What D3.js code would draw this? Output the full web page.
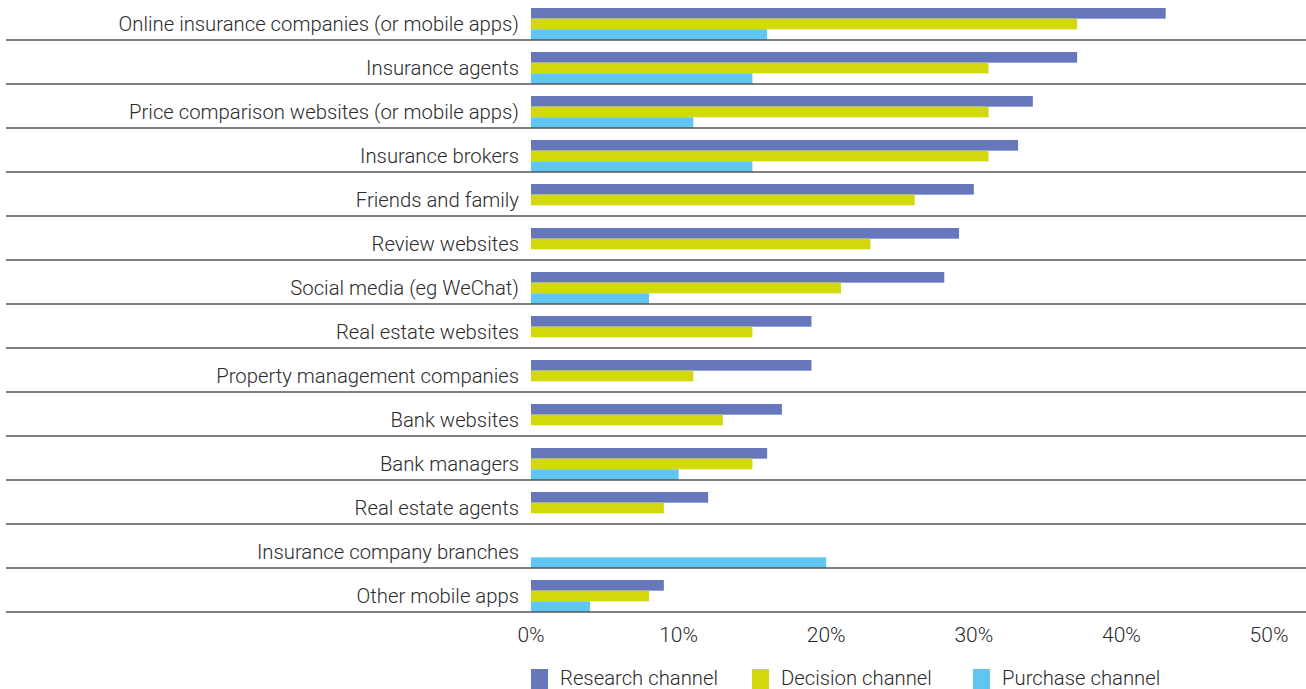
<!DOCTYPE html>
<html lang="en">
<head>
    <meta charset="UTF-8">
    <title>Research, decision and purchase channels</title>
    <script src="https://d3js.org/d3.v7.min.js"></script>
    <style>
        body {
            margin: 0;
            padding: 0;
            background: #fff;
            font-family: Roboto, "Open Sans", sans-serif;
        }
        svg text {
            fill: #2b2b2b;
            font-weight: 300;
        }
    </style>
</head>
<body>
    <svg id="chart" width="1306" height="689"></svg>

    <script>
        // channel categories, top to bottom
        const categories = [
            'Online insurance companies (or mobile apps)',
            'Insurance agents',
            'Price comparison websites (or mobile apps)',
            'Insurance brokers',
            'Friends and family',
            'Review websites',
            'Social media (eg WeChat)',
            'Real estate websites',
            'Property management companies',
            'Bank websites',
            'Bank managers',
            'Real estate agents',
            'Insurance company branches',
            'Other mobile apps'
        ];

        // values in percent (0 = no bar)
        const research = [43, 37, 34, 33, 30, 29, 28, 19, 19, 17, 16, 12, 0, 9];
        const decision = [37, 31, 31, 31, 26, 23, 21, 15, 11, 13, 15, 9, 0, 8];
        const purchase = [16, 15, 11, 15, 0, 0, 8, 0, 0, 0, 10, 0, 20, 4];

        const seriesNames = ['Research channel', 'Decision channel', 'Purchase channel'];
        const seriesValues = [research, decision, purchase];
        const colors = ['#6777bc', '#d3d80d', '#61c5f2'];

        const xTicks = [0, 10, 20, 30, 40, 50];

        const svg = d3.select('#chart');

        const x = d3.scaleLinear().domain([0, 50]).range([531, 1269]);
        const y = d3.scaleBand().domain(categories).range([-4, 612]);
        const ySub = d3.scaleBand().domain(seriesNames).range([12, y.bandwidth()]);

        // rows
        const rows = svg.selectAll('g.row')
            .data(categories)
            .enter().append('g')
            .attr('class', 'row')
            .attr('transform', d => `translate(0,${y(d)})`);

        rows.each(function(cat, i) {
            const g = d3.select(this);
            seriesNames.forEach((s, k) => {
                const v = seriesValues[k][i];
                if (!v) return;
                g.append('rect')
                    .attr('x', x(0))
                    .attr('y', ySub(s))
                    .attr('width', x(v) - x(0))
                    .attr('height', ySub.bandwidth())
                    .attr('fill', colors[k]);
            });
        });

        rows.append('line')
            .attr('x1', 6)
            .attr('x2', 1306)
            .attr('y1', y.bandwidth())
            .attr('y2', y.bandwidth())
            .attr('stroke', '#555')
            .attr('stroke-width', 1.3);

        rows.append('text')
            .attr('x', 519)
            .attr('y', 30)
            .attr('text-anchor', 'end')
            .attr('dominant-baseline', 'middle')
            .style('font-size', '20.3px')
            .text(d => d);

        // x axis labels
        svg.selectAll('text.tick')
            .data(xTicks)
            .enter().append('text')
            .attr('class', 'tick')
            .attr('x', d => x(d))
            .attr('y', 642)
            .attr('text-anchor', 'middle')
            .style('font-size', '21px')
            .text(d => d + '%');

        // legend
        const legend = svg.selectAll('g.legend')
            .data(seriesNames)
            .enter().append('g')
            .attr('class', 'legend')
            .attr('transform', (d, i) => `translate(${531 + i * 221},669)`);

        legend.append('rect')
            .attr('width', 17)
            .attr('height', 20)
            .attr('fill', (d, i) => colors[i]);

        legend.append('text')
            .attr('x', 29)
            .attr('y', 16)
            .style('font-size', '20.3px')
            .text(d => d);
    </script>
</body>
</html>
